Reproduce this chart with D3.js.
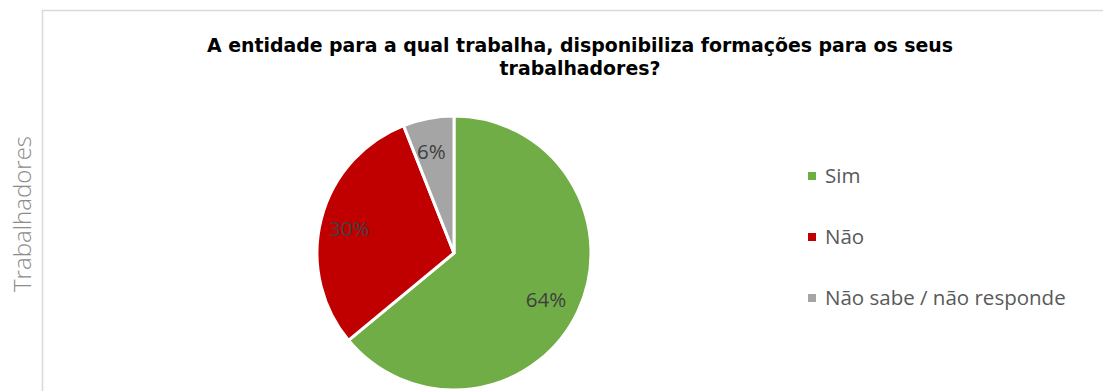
<!DOCTYPE html>
<html>
<head>
<meta charset="utf-8">
<script src="https://cdn.jsdelivr.net/npm/d3@7"></script>
<style>
  body { margin: 0; background: #fff; }
  svg { display: block; }
</style>
</head>
<body>
<div class="js-chart"></div>
<script>
let categories = ["Sim", "Não", "Não sabe / não responde"];
let values = [64, 30, 6];
let colors = ["#70ad47", "#c00000", "#a5a5a5"];
let titleLines = ["A entidade para a qual trabalha, disponibiliza formações para os seus", "trabalhadores?"];
let axisTitle = "Trabalhadores";

function drawChart() {
  var width = 1103;
  var height = 391;
  var cx = 454, cy = 253, radius = 137;

  var svg = d3.select('.js-chart').append('svg')
    .attr('width', width)
    .attr('height', height);

  // chart area border (left + top only visible)
  svg.append('rect')
    .attr('x', 42.5)
    .attr('y', 10.5)
    .attr('width', width)
    .attr('height', height)
    .attr('fill', 'none')
    .attr('stroke', '#d9d9d9')
    .attr('stroke-width', 1.5);

  // rotated axis title
  svg.append('text')
    .attr('transform', 'translate(31,214)rotate(-90)')
    .style('text-anchor', 'middle')
    .style('font-family', '"Open Sans", sans-serif')
    .style('font-weight', 300)
    .style('font-size', '24px')
    .style('fill', '#8c8c8c')
    .text(axisTitle);

  // title
  svg.append('g').selectAll('text')
    .data(titleLines)
    .enter()
    .append('text')
    .attr('x', 580)
    .attr('y', (d, i) => 52 + i * 23)
    .style('text-anchor', 'middle')
    .style('font-family', '"DejaVu Sans", sans-serif')
    .style('font-weight', 'bold')
    .style('font-size', '18.9px')
    .style('fill', '#000')
    .text((d) => d);

  var pie = d3.pie().sort(null).value((d) => d);
  var arc = d3.arc().innerRadius(0).outerRadius(radius);
  var labelArc = d3.arc().innerRadius(105).outerRadius(105);

  var g = svg.append('g').attr('transform', `translate(${cx},${cy})`);
  var arcs = pie(values);

  g.selectAll('path')
    .data(arcs)
    .enter()
    .append('path')
    .attr('d', arc)
    .attr('fill', (d, i) => colors[i])
    .attr('stroke', '#fff')
    .attr('stroke-width', 3)
    .attr('stroke-linejoin', 'round');

  g.selectAll('.lbl')
    .data(arcs)
    .enter()
    .append('text')
    .attr('class', 'lbl')
    .attr('transform', (d) => {
      var c = labelArc.centroid(d);
      return `translate(${c[0] - 3},${c[1] + 2})`;
    })
    .attr('dy', '0.35em')
    .style('text-anchor', 'middle')
    .style('font-family', '"Open Sans", sans-serif')
    .style('font-size', '20.5px')
    .style('fill', '#404040')
    .text((d) => d.data + '%');

  // legend
  var leg = svg.append('g').selectAll('g')
    .data(categories)
    .enter()
    .append('g')
    .attr('transform', (d, i) => `translate(808,${176 + i * 61})`);

  leg.append('rect')
    .attr('x', 0)
    .attr('y', -4)
    .attr('width', 8)
    .attr('height', 8)
    .attr('fill', (d, i) => colors[i]);

  leg.append('text')
    .attr('x', 17)
    .attr('dy', '0.36em')
    .style('font-family', '"Open Sans", sans-serif')
    .style('font-size', '20.5px')
    .style('fill', '#595959')
    .text((d) => d);
}

drawChart();
</script>
</body>
</html>
